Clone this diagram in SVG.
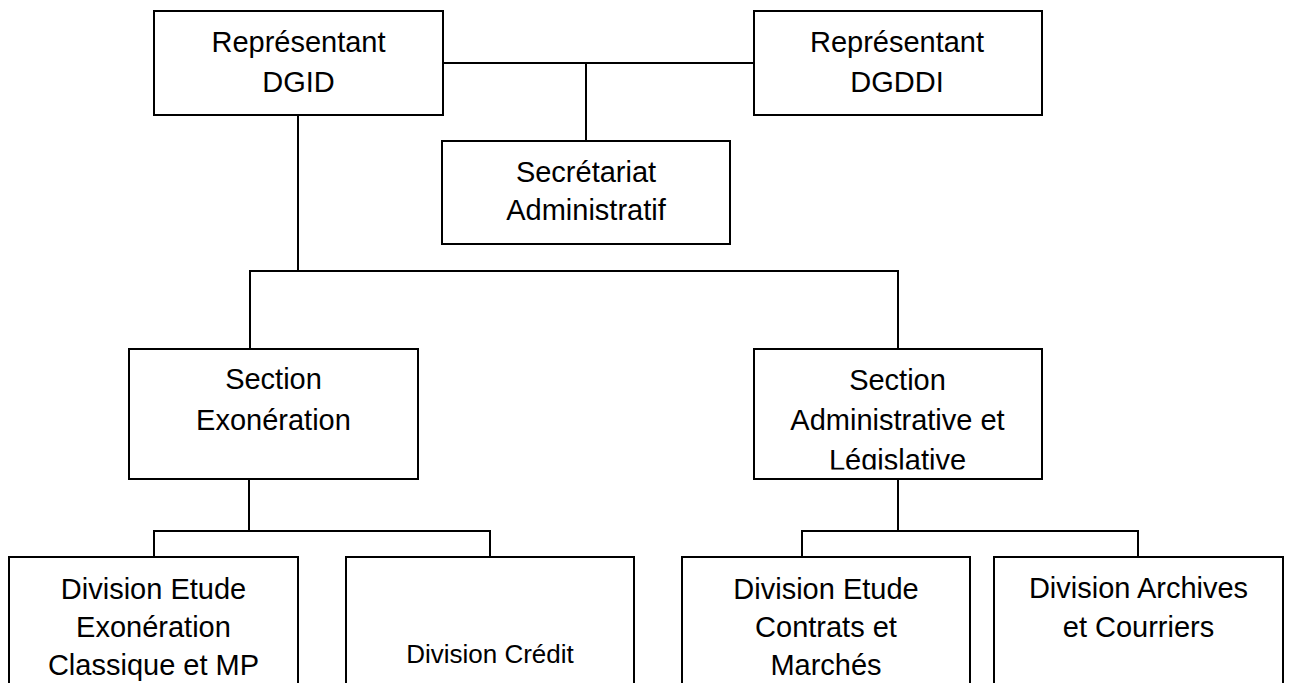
<svg xmlns="http://www.w3.org/2000/svg" width="1289" height="683" viewBox="0 0 1289 683">
  <style>
    .box { fill: #ffffff; stroke: #000000; stroke-width: 2; }
    .conn { fill: none; stroke: #000000; stroke-width: 2; }
    .t { font-family: "Liberation Sans", Arial, sans-serif; font-size: 29px; fill: #000000; text-anchor: middle; }
    .ts { font-size: 26px; }
  </style>
  <defs>
    <clipPath id="clipLeg">
      <rect x="754" y="349" width="288" height="120.5"/>
    </clipPath>
  </defs>
  <rect x="0" y="0" width="1289" height="683" fill="#ffffff"/>

  <g id="connectors">
    <path class="conn" d="M443,63 H754"/>
    <path class="conn" d="M586,63 V141"/>
    <path class="conn" d="M298,115 V271"/>
    <path class="conn" d="M250,349 V271 H898 V349"/>
    <path class="conn" d="M249,479 V531"/>
    <path class="conn" d="M154,557 V531 H490 V557"/>
    <path class="conn" d="M898,479 V531"/>
    <path class="conn" d="M802,557 V531 H1138 V557"/>
  </g>

  <g id="node-dgid">
    <rect class="box" x="154" y="11" width="289" height="104"/>
    <text class="t" x="298.5" y="52">Représentant</text>
    <text class="t" x="298.5" y="92">DGID</text>
  </g>

  <g id="node-dgddi">
    <rect class="box" x="754" y="11" width="288" height="104"/>
    <text class="t" x="897" y="52">Représentant</text>
    <text class="t" x="897" y="92">DGDDI</text>
  </g>

  <g id="node-secretariat">
    <rect class="box" x="442" y="141" width="288" height="103"/>
    <text class="t" x="586" y="182">Secrétariat</text>
    <text class="t" x="586" y="220">Administratif</text>
  </g>

  <g id="node-section-exo">
    <rect class="box" x="129" y="349" width="289" height="130"/>
    <text class="t" x="273.5" y="389">Section</text>
    <text class="t" x="273.5" y="430">Exonération</text>
  </g>

  <g id="node-section-admin">
    <rect class="box" x="754" y="349" width="288" height="130"/>
    <text class="t" x="897.5" y="390">Section</text>
    <text class="t" x="897.5" y="430">Administrative et</text>
    <text class="t" x="897.5" y="470" clip-path="url(#clipLeg)">Législative</text>
  </g>

  <g id="node-div-etude-exo">
    <rect class="box" x="9" y="557" width="289" height="150"/>
    <text class="t" x="153.5" y="599">Division Etude</text>
    <text class="t" x="153.5" y="637">Exonération</text>
    <text class="t" x="153.5" y="675">Classique et MP</text>
  </g>

  <g id="node-div-credit">
    <rect class="box" x="346" y="557" width="288" height="150"/>
    <text class="t ts" x="490" y="663">Division Crédit</text>
  </g>

  <g id="node-div-etude-contrats">
    <rect class="box" x="682" y="557" width="288" height="150"/>
    <text class="t" x="826" y="599">Division Etude</text>
    <text class="t" x="826" y="637">Contrats et</text>
    <text class="t" x="826" y="675">Marchés</text>
  </g>

  <g id="node-div-archives">
    <rect class="box" x="994" y="557" width="289" height="150"/>
    <text class="t" x="1138.5" y="598">Division Archives</text>
    <text class="t" x="1138.5" y="637">et Courriers</text>
  </g>
</svg>
